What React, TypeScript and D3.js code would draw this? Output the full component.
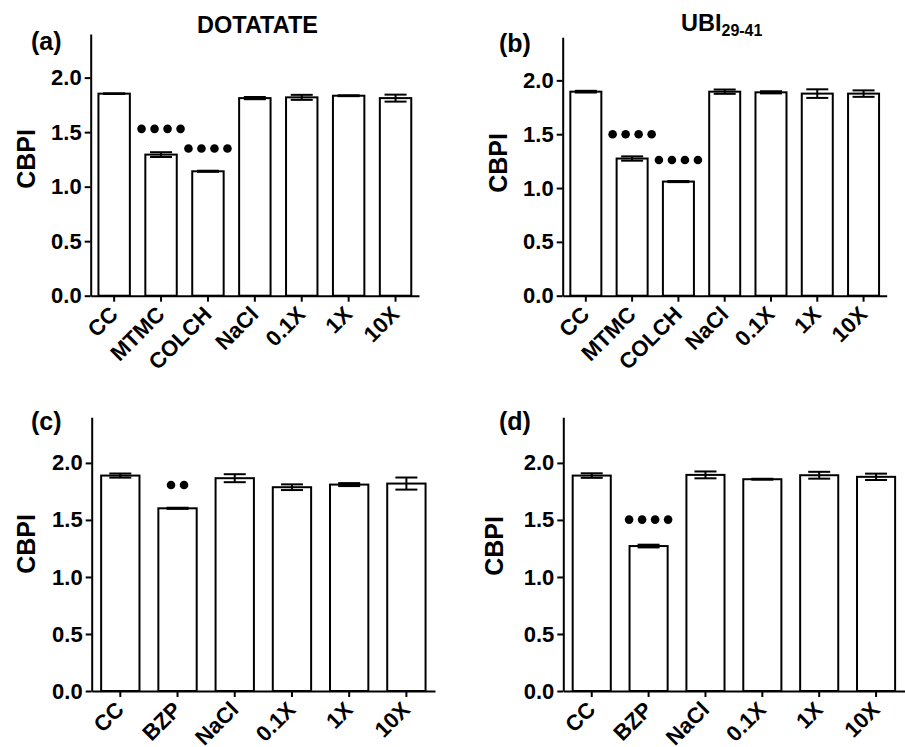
import * as d3 from "d3";
import React, { useEffect, useRef } from "react";

// categories
const catsTop = ["CC", "MTMC", "COLCH", "NaCl", "0.1X", "1X", "10X"];
const catsBottom = ["CC", "BZP", "NaCl", "0.1X", "1X", "10X"];
const yTicks = [0, 0.5, 1.0, 1.5, 2.0];

// (a) DOTATATE
const dotatateMean = [1.853, 1.294, 1.141, 1.812, 1.819, 1.834, 1.812];
const dotatateSem = [0.003, 0.022, 0.005, 0.01, 0.023, 0.004, 0.032];
const dotatateDots = [0, 4, 4, 0, 0, 0, 0];
const dotatateDotY = [0, 1.53, 1.35, 0, 0, 0, 0];

// (b) UBI 29-41
const ubiMean = [1.895, 1.274, 1.06, 1.895, 1.889, 1.877, 1.877];
const ubiSem = [0.008, 0.02, 0.005, 0.02, 0.01, 0.04, 0.03];
const ubiDots = [0, 4, 4, 0, 0, 0, 0];
const ubiDotY = [0, 1.5, 1.26, 0, 0, 0, 0];

// (c)
const cMean = [1.889, 1.602, 1.866, 1.787, 1.81, 1.819];
const cSem = [0.018, 0.005, 0.035, 0.025, 0.013, 0.053];
const cDots = [0, 2, 0, 0, 0, 0];
const cDotY = [0, 1.807, 0, 0, 0, 0];

// (d)
const dMean = [1.889, 1.271, 1.895, 1.857, 1.892, 1.878];
const dSem = [0.02, 0.012, 0.03, 0.004, 0.03, 0.028];
const dDots = [0, 4, 0, 0, 0, 0];
const dDotY = [0, 1.503, 0, 0, 0, 0];

const FONT = "Arial, 'Liberation Sans', sans-serif";

function drawPanel(svg, cfg) {
  const { cats, mean, sem, dots, dotY, left, right, top, bottom, letter, letterX, letterY, labelX, labelY } = cfg;

  const x = d3.scaleBand().domain(cats).range([left, right]).paddingInner(0.33).paddingOuter(0.165);
  const y = d3.scaleLinear().domain([0, 2.4]).range([bottom, top]);

  const g = svg.append("g");

  // bars
  g.selectAll("rect.bar")
    .data(cats)
    .enter()
    .append("rect")
    .attr("class", "bar")
    .attr("x", (d) => x(d))
    .attr("width", x.bandwidth())
    .attr("y", (d, i) => y(mean[i]))
    .attr("height", (d, i) => y(0) - y(mean[i]))
    .attr("fill", "#fff")
    .attr("stroke", "#000")
    .attr("stroke-width", 2);

  // error bars
  const capW = 22;
  cats.forEach((c, i) => {
    const cx = x(c) + x.bandwidth() / 2;
    const lo = y(mean[i] - sem[i]);
    const hi = y(mean[i] + sem[i]);
    g.append("line").attr("x1", cx).attr("x2", cx).attr("y1", lo).attr("y2", hi)
      .attr("stroke", "#000").attr("stroke-width", 2);
    [lo, hi].forEach((yy) => {
      g.append("line").attr("x1", cx - capW / 2).attr("x2", cx + capW / 2).attr("y1", yy).attr("y2", yy)
        .attr("stroke", "#000").attr("stroke-width", 2);
    });
    // significance dots
    const n = dots[i];
    if (n > 0) {
      const sp = 13;
      for (let k = 0; k < n; k++) {
        g.append("circle")
          .attr("cx", cx + (k - (n - 1) / 2) * sp)
          .attr("cy", y(dotY[i]))
          .attr("r", 4.3)
          .attr("fill", "#000");
      }
    }
  });

  // y axis
  const yAxis = g.append("g")
    .attr("transform", `translate(${left},0)`)
    .call(d3.axisLeft(y).tickValues(yTicks).tickFormat(d3.format(".1f")).tickSize(6).tickSizeOuter(0));
  yAxis.select(".domain").attr("stroke-width", 2);
  yAxis.selectAll(".tick line").attr("stroke-width", 2);
  yAxis.selectAll(".tick text")
    .attr("x", -9)
    .style("font-family", FONT)
    .style("font-weight", "bold")
    .style("font-size", "22px")
    .attr("fill", "#000");

  // x axis
  const xAxis = g.append("g")
    .attr("transform", `translate(0,${bottom})`)
    .call(d3.axisBottom(x).tickSize(6).tickSizeOuter(0));
  xAxis.select(".domain").attr("stroke-width", 2);
  xAxis.selectAll(".tick line").attr("stroke-width", 2);
  xAxis.selectAll(".tick text")
    .attr("x", 0)
    .attr("y", 0)
    .attr("dy", 0)
    .attr("transform", "translate(5,20) rotate(-45)")
    .attr("text-anchor", "end")
    .style("font-family", FONT)
    .style("font-weight", "bold")
    .style("font-size", "22px")
    .attr("fill", "#000");

  // panel letter
  svg.append("text")
    .attr("x", letterX)
    .attr("y", letterY)
    .style("font-family", FONT)
    .style("font-weight", "bold")
    .style("font-size", "25px")
    .text(letter);

  // y label
  svg.append("text")
    .attr("transform", `translate(${labelX},${labelY}) rotate(-90)`)
    .attr("text-anchor", "middle")
    .style("font-family", FONT)
    .style("font-weight", "bold")
    .style("font-size", "25px")
    .text("CBPI");
}

export default function App() {
  const ref = useRef(null);

  useEffect(() => {
    const svg = d3.select(ref.current);
    svg.selectAll("*").remove();

    drawPanel(svg, {
      cats: catsTop, mean: dotatateMean, sem: dotatateSem, dots: dotatateDots, dotY: dotatateDotY,
      left: 90.7, right: 419, top: 34, bottom: 295.7,
      letter: "(a)", letterX: 31, letterY: 50, labelX: 35, labelY: 159,
    });
    drawPanel(svg, {
      cats: catsTop, mean: ubiMean, sem: ubiSem, dots: ubiDots, dotY: ubiDotY,
      left: 562.7, right: 886.7, top: 37.3, bottom: 295.7,
      letter: "(b)", letterX: 499, letterY: 52, labelX: 507, labelY: 163,
    });
    drawPanel(svg, {
      cats: catsBottom, mean: cMean, sem: cSem, dots: cDots, dotY: cDotY,
      left: 91.7, right: 435, top: 417.3, bottom: 691,
      letter: "(c)", letterX: 31, letterY: 430, labelX: 35, labelY: 544,
    });
    drawPanel(svg, {
      cats: catsBottom, mean: dMean, sem: dSem, dots: dDots, dotY: dDotY,
      left: 563.3, right: 904.5, top: 417.3, bottom: 691,
      letter: "(d)", letterX: 499, letterY: 430, labelX: 503, labelY: 546,
    });

    // titles
    svg.append("text")
      .attr("x", 257.5)
      .attr("y", 33)
      .attr("text-anchor", "middle")
      .style("font-family", FONT)
      .style("font-weight", "bold")
      .style("font-size", "23.5px")
      .text("DOTATATE");

    const ubi = svg.append("text")
      .attr("x", 681)
      .attr("y", 31)
      .style("font-family", FONT)
      .style("font-weight", "bold")
      .style("font-size", "23.5px");
    ubi.append("tspan").text("UBI");
    ubi.append("tspan").attr("dy", 5).style("font-size", "16px").text("29-41");
  }, []);

  return (
    <svg
      ref={ref}
      width={905}
      height={747}
      style={{ position: "absolute", left: 0, top: 0, background: "#fff" }}
    />
  );
}
